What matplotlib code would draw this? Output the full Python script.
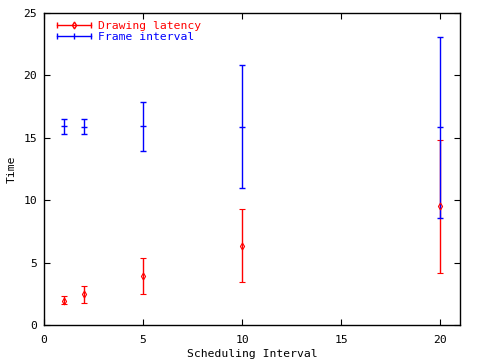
import matplotlib
matplotlib.use("Agg")
import matplotlib.pyplot as plt
from matplotlib.legend_handler import HandlerBase
from matplotlib.lines import Line2D

# scheduling intervals
intervals = [1, 2, 5, 10, 20]

# drawing latency: centre, low, high
draw_mid = [1.95, 2.45, 3.95, 6.3, 9.5]
draw_lo = [1.65, 1.75, 2.5, 3.45, 4.15]
draw_hi = [2.3, 3.1, 5.35, 9.3, 14.8]

# frame interval: centre, low, high
frame_mid = [15.95, 15.9, 15.95, 15.9, 15.85]
frame_lo = [15.3, 15.3, 13.95, 10.95, 8.55]
frame_hi = [16.5, 16.5, 17.85, 20.8, 23.1]

plt.rcParams['font.family'] = ['DejaVu Sans Mono']
plt.rcParams['font.size'] = 8.2


class GnuplotKey(HandlerBase):
    # horizontal sample with end caps and the point symbol in the middle
    def __init__(self, marker, ms):
        super().__init__()
        self.marker = marker
        self.ms = ms

    def create_artists(self, legend, orig, xd, yd, w, h, fs, trans):
        c = orig[0].get_color()
        y = yd + h / 2
        line = Line2D([xd, xd + w], [y, y], color=c, lw=1, transform=trans)
        caps = Line2D([xd, xd + w], [y, y], ls='none', marker='|', ms=5,
                      mew=1, color=c, transform=trans)
        pt = Line2D([xd + w / 2], [y], ls='none', marker=self.marker,
                    ms=self.ms, mfc='none', mew=1, color=c, transform=trans)
        return [line, caps, pt]


fig = plt.figure(figsize=(4.8, 3.6), dpi=100)
ax = fig.add_axes([44/480, 35/360, 416/480, 312/360])

def err(mid, lo, hi):
    return [[m - l for m, l in zip(mid, lo)], [h - m for m, h in zip(mid, hi)]]

h1 = ax.errorbar(intervals, draw_mid, yerr=err(draw_mid, draw_lo, draw_hi),
                 fmt='d', color='red', ms=3.5, mfc='none', mew=0.8,
                 elinewidth=1, capsize=2.5, capthick=1)
h2 = ax.errorbar(intervals, frame_mid, yerr=err(frame_mid, frame_lo, frame_hi),
                 fmt='_', color='blue', ms=5, mew=1,
                 elinewidth=1, capsize=2.5, capthick=1)

ax.set_xlim(0, 21)
ax.set_ylim(0, 25)
ax.set_xticks([0, 5, 10, 15, 20])
ax.set_yticks([0, 5, 10, 15, 20, 25])
ax.tick_params(direction='in', length=4.5, width=0.8, top=True, right=True)
ax.tick_params(axis='x', pad=7)
ax.tick_params(axis='y', pad=5)
for s in ax.spines.values():
    s.set_linewidth(1)

ax.set_xlabel('Scheduling Interval', labelpad=3)
ax.set_ylabel('Time')
ax.yaxis.set_label_coords(-27/416, 0.5)

leg = ax.legend([h1, h2], ['Drawing latency', 'Frame interval'],
                handler_map={h1: GnuplotKey('d', 3.5), h2: GnuplotKey('|', 4)},
                loc='upper left', frameon=False, handlelength=3.0,
                handletextpad=0.6, borderaxespad=0, labelspacing=0.1,
                bbox_to_anchor=(8/416, 1 - 3/312))
for t, c in zip(leg.get_texts(), ['red', 'blue']):
    t.set_color(c)

fig.savefig('out.png', dpi=100)
